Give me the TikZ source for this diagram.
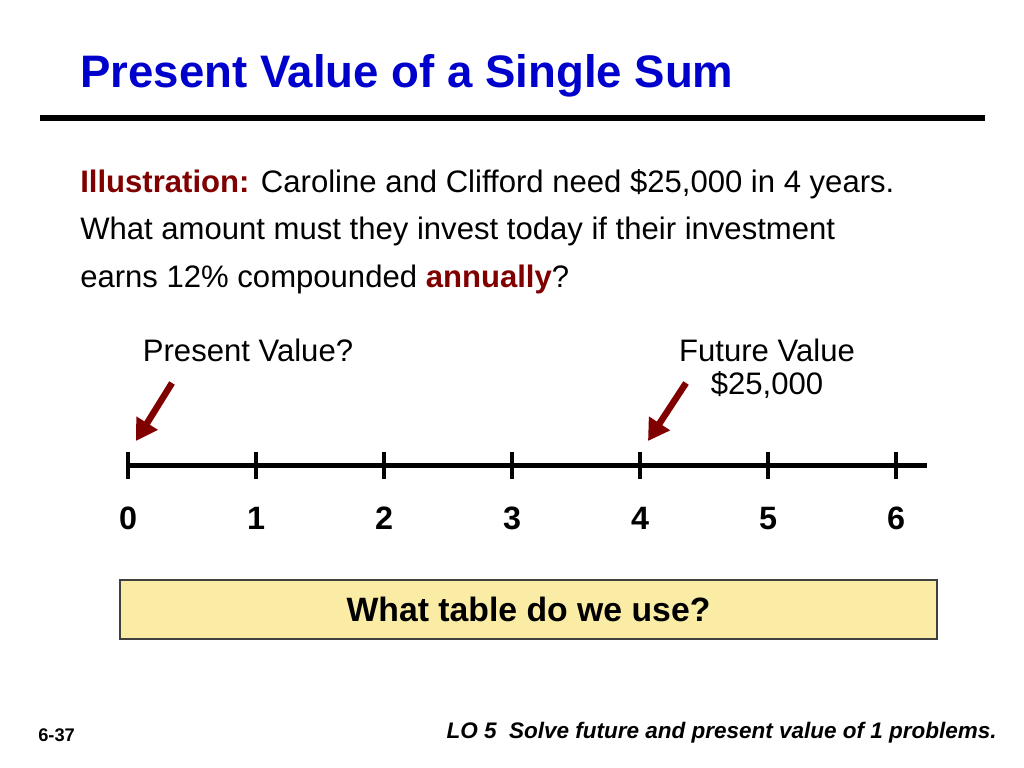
\documentclass[tikz,border=0pt]{standalone}
\usepackage{fontspec}
\setmainfont{Liberation Sans}
\usetikzlibrary{arrows.meta}
\definecolor{titleblue}{RGB}{0,0,204}
\definecolor{darkred}{RGB}{128,0,0}
\definecolor{boxyellow}{RGB}{250,235,165}
\tikzset{
	slidetext/.style = {
		inner sep=0pt,
		font=\fontsize{22.1}{26}\selectfont
	},
	title_text/.style = {
		inner sep=0pt,
		anchor=west,
		text=titleblue,
		font=\fontsize{32.4}{40}\selectfont\bfseries
	},
	body_line/.style = {
		slidetext,
		anchor=west
	},
	tick_label/.style = {
		inner sep=0pt,
		anchor=base,
		font=\fontsize{23}{28}\selectfont\bfseries
	},
	pointer/.style = {
		draw=darkred,
		line width=6.5pt*0.7113,
		-{Triangle[length=15pt,width=17pt]}
	},
	question_box/.style = {
		draw=black!75,
		fill=boxyellow,
		line width=1.2pt,
		minimum width=817*0.025cm,
		minimum height=59*0.025cm,
		font=\fontsize{24}{28}\selectfont\bfseries
	},
}
\begin{document}
\begin{tikzpicture}[x=0.025cm,y=-0.025cm]
\useasboundingbox (0,0) rectangle (1024,768);
% title and rule
\node [title_text] (title) at (80,76) {Present Value of a Single Sum};
\coordinate (rule_l) at (40,118);
\coordinate (rule_r) at (985,118);
\draw [line width=6*0.7113pt] (rule_l) -- (rule_r);
% illustration text
\node [body_line] (line1) at (80,184) {\textcolor{darkred}{\bfseries Illustration:} Caroline and Clifford need \$25,000 in 4 years.};
\node [body_line] (line2) at (80,231) {What amount must they invest today if their investment};
\node [body_line] (line3) at (80,279) {earns 12\% compounded \textcolor{darkred}{\bfseries annually}?};
% labels above the time line
\node [slidetext] (pv) at (248,350) {Present Value?};
\node [slidetext] (fv) at (767,350) {Future Value};
\node [slidetext] (fv_amount) at (767,385) {\$25,000};
% time line
\coordinate (tl_start) at (128,465);
\coordinate (tl_end) at (927,465);
\draw [line width=5*0.7113pt] (tl_start) -- (tl_end);
\foreach \i in {0,...,6} {
	\coordinate (t\i) at (128+128*\i,465);
	\draw [line width=4*0.7113pt] (128+128*\i,452) -- (128+128*\i,479);
	\node [tick_label] (n\i) at (128+128*\i,529) {\i};
}
% arrows
\coordinate (a_from) at (172,383);
\coordinate (a_to) at (136,441);
\coordinate (b_from) at (686,383);
\coordinate (b_to) at (648,441);
\draw [pointer] (a_from) -- (a_to);
\draw [pointer] (b_from) -- (b_to);
% question
\node [question_box] (question) at (528.5,609.5) {What table do we use?};
% footer
\node [inner sep=0pt, anchor=west, font=\fontsize{13}{15}\selectfont\bfseries] (page) at (38,735) {6-37};
\node [inner sep=0pt, anchor=east, font=\fontsize{16}{18}\selectfont\bfseries\itshape] (lo) at (997,733) {LO 5\ \ Solve future and present value of 1 problems.};
\end{tikzpicture}
\end{document}
